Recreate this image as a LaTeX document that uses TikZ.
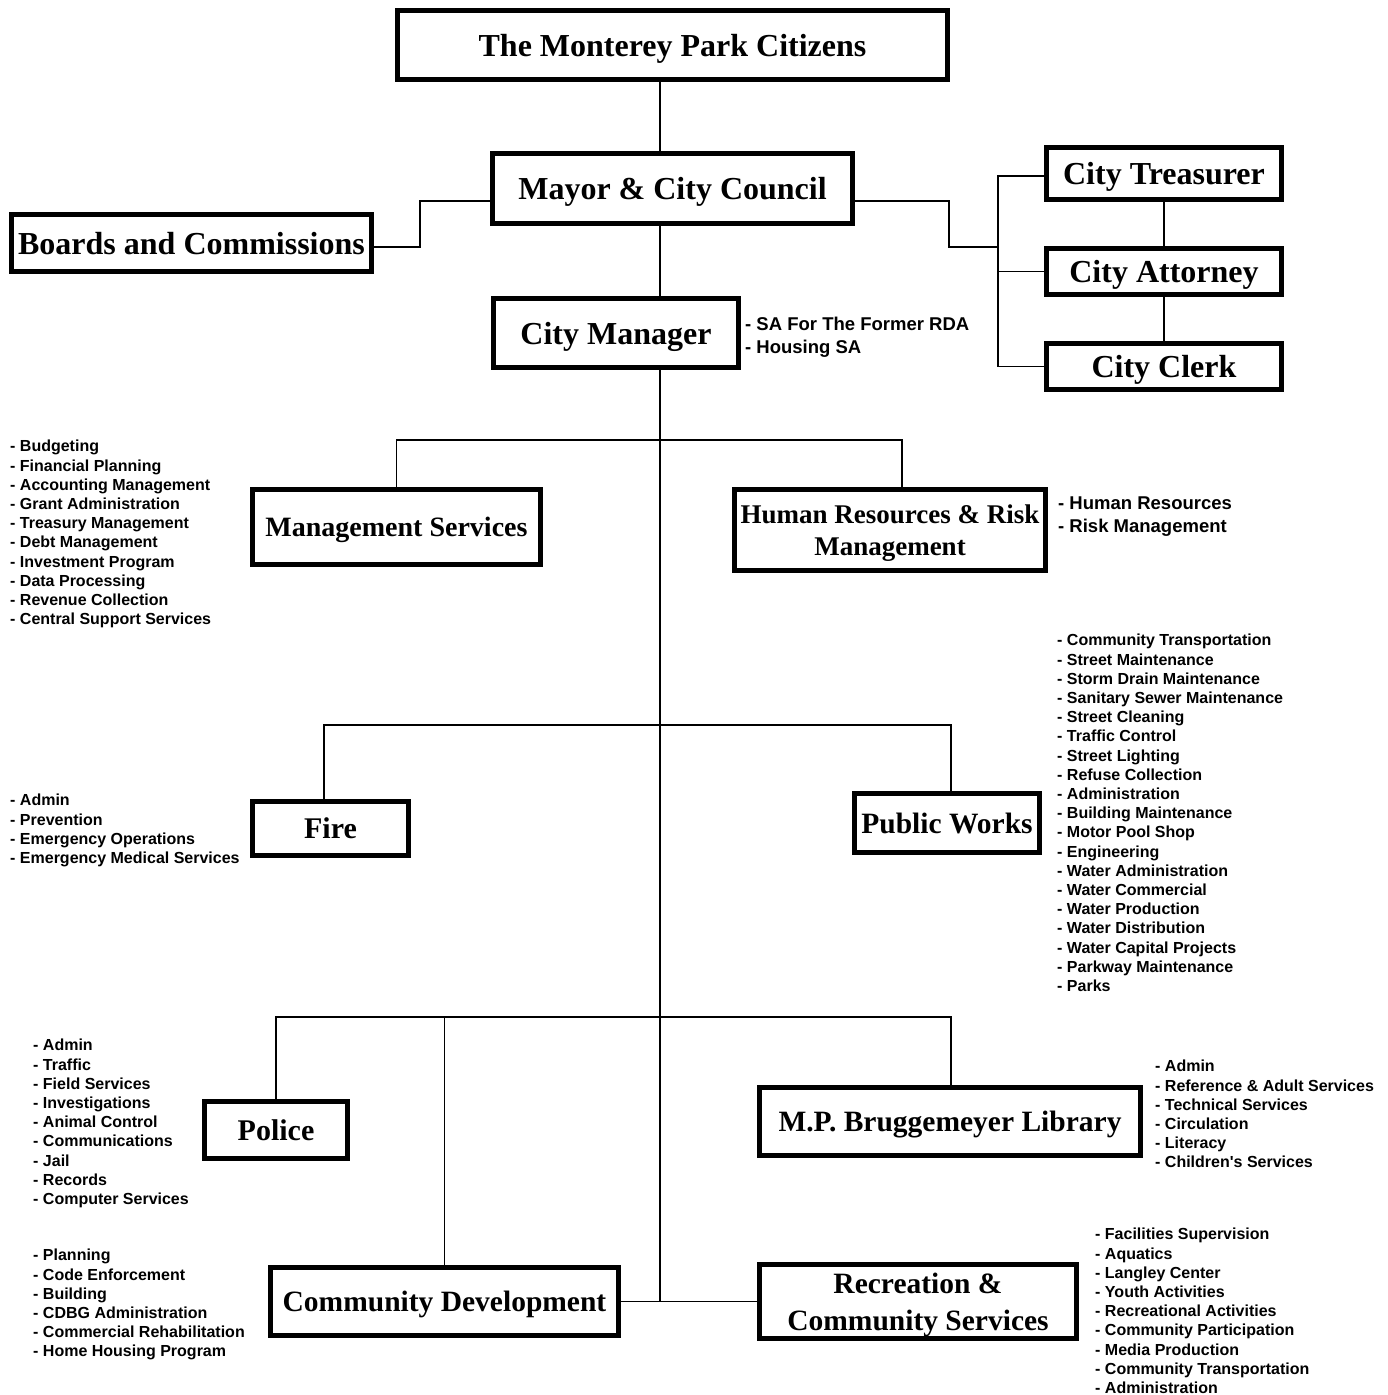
\documentclass[tikz,border=0pt]{standalone}
\usepackage{fontspec}
\setmainfont{Liberation Serif}
\newfontfamily\itemfont{Liberation Sans}
\begin{document}
\begin{tikzpicture}[x=1pt,y=-1pt,
  box/.style={draw=black, line width=5pt, fill=white, inner sep=0pt, align=center, text depth=0pt},
  bigtxt/.style={font=\bfseries\fontsize{32}{36}\selectfont},
  midtxt/.style={font=\bfseries\fontsize{29.5}{37}\selectfont},
  conn/.style={line width=1.8pt, draw=black},
  items/.style={anchor=north west, inner sep=0pt, align=left, font=\itemfont\bfseries\fontsize{16}{19.2}\selectfont},
  bigitems/.style={anchor=north west, inner sep=0pt, align=left, font=\itemfont\bfseries\fontsize{18.5}{23}\selectfont}]
\useasboundingbox (0,0) rectangle (1388,1395);
\fill[white] (0,0) rectangle (1388,1395);

% helper coordinates
\coordinate (tx) at (660,0);
\coordinate (L1) at (0,440);
\coordinate (L2) at (0,725);
\coordinate (L3) at (0,1017);
\coordinate (rb) at (998,247);

% boxes
\node[box, bigtxt, minimum width=550pt, minimum height=69pt] (cit) at (672.5,45) {The Monterey Park Citizens};
\node[box, bigtxt, minimum width=360pt, minimum height=70pt] (mayor) at (672.5,188.5) {Mayor \& City Council};
\node[box, bigtxt, minimum width=360pt, minimum height=57pt] (boards) at (191.5,243) {Boards and Commissions};
\node[box, bigtxt, minimum width=245pt, minimum height=69pt] (mgr) at (616,333) {City Manager};
\node[box, bigtxt, minimum width=235pt, minimum height=52pt] (treas) at (1164,173.5) {City Treasurer};
\node[box, bigtxt, minimum width=235pt, minimum height=46pt] (att) at (1164,271.5) {City Attorney};
\node[box, bigtxt, minimum width=235pt, minimum height=46pt] (clerk) at (1164,366.5) {City Clerk};
\node[box, font=\bfseries\fontsize{28}{32}\selectfont, minimum width=288pt, minimum height=75pt] (ms) at (396.5,527) {Management Services};
\node[box, font=\bfseries\fontsize{27}{32}\selectfont, minimum width=311pt, minimum height=81pt] (hr) at (890,530) {Human Resources \& Risk\\Management};
\node[box, font=\bfseries\fontsize{30}{36}\selectfont, minimum width=156pt, minimum height=54pt] (fire) at (330.5,828.5) {Fire};
\node[box, midtxt, minimum width=185pt, minimum height=59pt] (pw) at (947,823) {Public Works};
\node[box, font=\bfseries\fontsize{30}{36}\selectfont, minimum width=143pt, minimum height=57pt] (police) at (276,1130) {Police};
\node[box, midtxt, minimum width=381pt, minimum height=68pt] (lib) at (950,1121.5) {M.P. Bruggemeyer Library};
\node[box, midtxt, minimum width=348pt, minimum height=68pt] (cd) at (444.5,1301.5) {Community Development};
\node[box, midtxt, minimum width=317pt, minimum height=74pt] (rec) at (918,1301.5) {Recreation \&\\Community Services};

% connectors
\draw[conn] (cit.south -| tx) -- (mayor.north -| tx);
\draw[conn] (mayor.south -| tx) -- (mgr.north -| tx);
\draw[conn] ([yshift=-4pt]boards.east) -- ++(46,0) |- ([yshift=-12.5pt]mayor.west);
\draw[conn] ([yshift=-12.5pt]mayor.east) -- ++(94,0) |- (rb);
\draw[conn] ([yshift=-2.5pt]treas.west) -| (clerk.west -| rb) -- (clerk.west);
\draw[conn] (att.west -| rb) -- (att.west);
\draw[conn] (treas.south) -- (att.north);
\draw[conn] (att.south) -- (clerk.north);
\draw[conn] (mgr.south -| tx) -- (cd.east -| tx);
\draw[conn] (ms.north) -- (ms.north |- L1) -- ([xshift=12pt]hr.north |- L1) -- ([xshift=12pt]hr.north);
\draw[conn] ([xshift=-6.5pt]fire.north) -- ([xshift=-6.5pt]fire.north |- L2) -- ([xshift=4pt]pw.north |- L2) -- ([xshift=4pt]pw.north);
\draw[conn] (police.north) -- (police.north |- L3) -- ([xshift=1pt]lib.north |- L3) -- ([xshift=1pt]lib.north);
\draw[conn] (cd.north) -- (cd.north |- L3);
\draw[conn] (cd.east) -- (rec.west);

% item lists
\node[bigitems] (sa) at (745,317) {- SA For The Former RDA\\- Housing SA};
\node[items] (msl) at (10,440) {- Budgeting\\- Financial Planning\\- Accounting Management\\- Grant Administration\\- Treasury Management\\- Debt Management\\- Investment Program\\- Data Processing\\- Revenue Collection\\- Central Support Services};
\node[bigitems] (hrl) at (1058,497) {- Human Resources\\- Risk Management};
\node[items] (pwl) at (1057,634) {- Community Transportation\\- Street Maintenance\\- Storm Drain Maintenance\\- Sanitary Sewer Maintenance\\- Street Cleaning\\- Traffic Control\\- Street Lighting\\- Refuse Collection\\- Administration\\- Building Maintenance\\- Motor Pool Shop\\- Engineering\\- Water Administration\\- Water Commercial\\- Water Production\\- Water Distribution\\- Water Capital Projects\\- Parkway Maintenance\\- Parks};
\node[items] (firel) at (10,794) {- Admin\\- Prevention\\- Emergency Operations\\- Emergency Medical Services};
\node[items] (policel) at (33,1039) {- Admin\\- Traffic\\- Field Services\\- Investigations\\- Animal Control\\- Communications\\- Jail\\- Records\\- Computer Services};
\node[items] (cdl) at (33,1249) {- Planning\\- Code Enforcement\\- Building\\- CDBG Administration\\- Commercial Rehabilitation\\- Home Housing Program};
\node[items] (libl) at (1155,1060) {- Admin\\- Reference \& Adult Services\\- Technical Services\\- Circulation\\- Literacy\\- Children's Services};
\node[items] (recl) at (1095,1228) {- Facilities Supervision\\- Aquatics\\- Langley Center\\- Youth Activities\\- Recreational Activities\\- Community Participation\\- Media Production\\- Community Transportation\\- Administration};
\end{tikzpicture}
\end{document}
